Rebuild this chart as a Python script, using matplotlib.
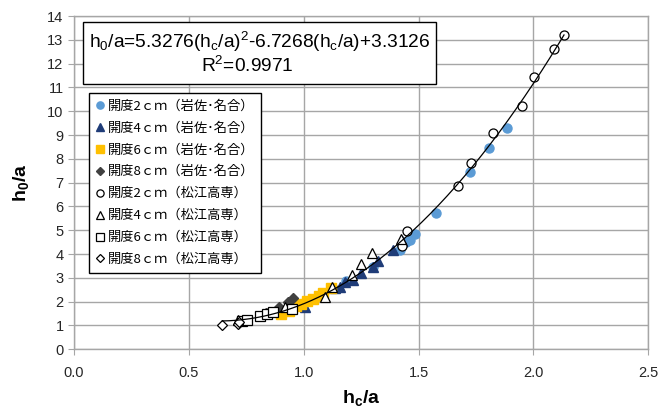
import numpy as np
import matplotlib
matplotlib.use('Agg')
import matplotlib.pyplot as plt
from matplotlib.patches import Rectangle

plt.rcParams['font.family'] = ['Liberation Sans', 'Noto Sans CJK JP', 'DejaVu Sans']
plt.rcParams['mathtext.fontset'] = 'custom'
plt.rcParams['mathtext.rm'] = 'Liberation Sans'
plt.rcParams['mathtext.it'] = 'Liberation Sans'
plt.rcParams['mathtext.bf'] = 'Liberation Sans:bold'

# 岩佐・名合
iwasa_2_x = [1.185, 1.303, 1.419, 1.445, 1.463, 1.485, 1.575, 1.724, 1.807, 1.884]
iwasa_2_y = [2.87, 3.47, 4.17, 4.50, 4.59, 4.85, 5.71, 7.44, 8.44, 9.31]
iwasa_4_x = [1.006, 1.136, 1.158, 1.180, 1.216, 1.251, 1.303, 1.325, 1.390, 1.426]
iwasa_4_y = [1.79, 2.56, 2.63, 2.84, 2.91, 3.19, 3.45, 3.70, 4.17, 4.55]
iwasa_6_x = [0.901, 0.935, 0.965, 0.990, 1.015, 1.040, 1.065, 1.085, 1.119]
iwasa_6_y = [1.49, 1.62, 1.80, 1.92, 2.02, 2.13, 2.25, 2.36, 2.58]
iwasa_8_x = [0.834, 0.849, 0.894, 0.933, 0.955]
iwasa_8_y = [1.51, 1.58, 1.79, 2.00, 2.17]

# 松江高専
matsue_2_x = [1.426, 1.451, 1.673, 1.727, 1.826, 1.949, 2.003, 2.091, 2.133]
matsue_2_y = [4.35, 4.98, 6.87, 7.81, 9.10, 10.22, 11.43, 12.60, 13.20]
matsue_4_x = [0.713, 0.918, 1.093, 1.122, 1.208, 1.248, 1.296, 1.423]
matsue_4_y = [1.25, 1.76, 2.21, 2.61, 3.12, 3.57, 4.03, 4.65]
matsue_6_x = [0.730, 0.752, 0.810, 0.839, 0.868, 0.947]
matsue_6_y = [1.18, 1.24, 1.38, 1.47, 1.55, 1.68]
matsue_8_x = [0.646, 0.712, 0.720]
matsue_8_y = [1.00, 1.06, 1.14]

labels = ['開度2ｃｍ（岩佐･名合）', '開度4ｃｍ（岩佐･名合）', '開度6ｃｍ（岩佐･名合）', '開度8ｃｍ（岩佐･名合）',
          '開度2ｃｍ（松江高専）', '開度4ｃｍ（松江高専）', '開度6ｃｍ（松江高専）', '開度8ｃｍ（松江高専）']

# trendline coefficients (from the chart)
coef = [5.3276, -6.7268, 3.3126]
fit_range = [0.646, 2.133]

fig = plt.figure(figsize=(6.72, 4.12), dpi=100)
ax = fig.add_axes([74 / 672, 1 - 349.3 / 412, (648.3 - 74) / 672, (349.3 - 16) / 412])

grid_c = '#a6a6a6'
ax.plot(iwasa_2_x, iwasa_2_y, 'o', ms=6.5, color='#5b9bd5', mec='#5b9bd5', ls='none', label=labels[0])
ax.plot(iwasa_4_x, iwasa_4_y, '^', ms=6.5, color='#1f3c78', mec='#1f3c78', ls='none', label=labels[1])
ax.plot(iwasa_6_x, iwasa_6_y, 's', ms=6.5, color='#ffc000', mec='#ffc000', ls='none', label=labels[2])
ax.plot(iwasa_8_x, iwasa_8_y, 'D', ms=5, color='#404040', mec='#404040', ls='none', label=labels[3])
ax.plot(matsue_2_x, matsue_2_y, 'o', ms=6.5, mfc='white', mec='black', mew=0.9, ls='none', label=labels[4])
ax.plot(matsue_4_x, matsue_4_y, '^', ms=7, mfc='white', mec='black', mew=0.9, ls='none', label=labels[5])
ax.plot(matsue_6_x, matsue_6_y, 's', ms=6.5, mfc='white', mec='black', mew=0.9, ls='none', label=labels[6])
ax.plot(matsue_8_x, matsue_8_y, 'D', ms=5, mfc='white', mec='black', mew=0.9, ls='none', label=labels[7])

xf = np.linspace(fit_range[0], fit_range[1], 200)
ax.plot(xf, np.polyval(coef, xf), color='black', lw=0.9, zorder=5)

ax.set_xlim(0, 2.5)
ax.set_ylim(0, 14)
ax.set_xticks(np.arange(0, 2.51, 0.5))
ax.set_yticks(range(0, 15))
ax.set_xticklabels(['%.1f' % v for v in np.arange(0, 2.51, 0.5)])
ax.grid(True, color=grid_c, lw=1)
ax.set_axisbelow(True)
for s in ax.spines.values():
    s.set_color(grid_c)
    s.set_linewidth(1)
ax.tick_params(axis='both', length=4, color=grid_c, labelsize=10.5, labelcolor='#262626')
ax.tick_params(axis='x', pad=8)

ax.set_xlabel(r'$\mathbf{h_c/a}$', fontsize=14)
ax.set_ylabel(r'$\mathbf{h_0/a}$', fontsize=14)
ax.xaxis.set_label_coords(0.5, -0.115)
ax.yaxis.set_label_coords(-0.075, 0.5)

leg = ax.legend(loc='upper left', bbox_to_anchor=(88.6 / 672, 1 - 92.7 / 412), bbox_transform=fig.transFigure,
                prop={'family': ['Noto Sans CJK JP', 'DejaVu Sans'], 'size': 9.5},
                frameon=True, fancybox=False, edgecolor='black', framealpha=1,
                handlelength=0.7, handletextpad=0.25, labelspacing=0.68, borderpad=0.5,
                markerscale=0.8, borderaxespad=0)
leg.get_frame().set_linewidth(1.0)
leg.set_zorder(10)

# equation box
fig.patches.append(Rectangle((83.4 / 672, 1 - 84.3 / 412), (435.6 - 83.4) / 672, (84.3 - 21.7) / 412,
                             transform=fig.transFigure, fill=True, facecolor='white',
                             edgecolor='black', lw=1.0, zorder=10))
fig.text(260 / 672, 1 - 42 / 412,
         r'$\mathrm{h_0/a\text{=}5.3276(h_c/a)^2\text{-}6.7268(h_c/a){+}3.3126}$',
         ha='center', va='center', fontsize=13.8, zorder=11)
fig.text(247 / 672, 1 - 66 / 412, r'$\mathrm{R^2\text{=}0.9971}$', ha='center', va='center',
         fontsize=13.8, zorder=11)

fig.savefig('out.png', dpi=100)
